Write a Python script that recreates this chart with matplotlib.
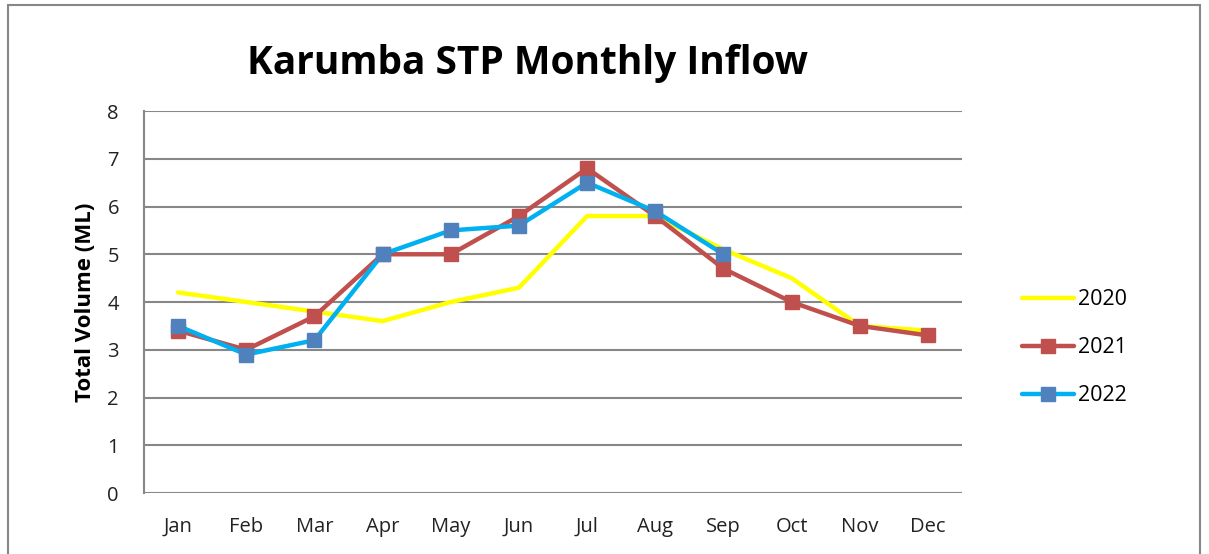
import matplotlib.pyplot as plt
from matplotlib.patches import Rectangle

# data
months = ["Jan", "Feb", "Mar", "Apr", "May", "Jun",
          "Jul", "Aug", "Sep", "Oct", "Nov", "Dec"]
inflow_2020 = [4.2, 4.0, 3.8, 3.6, 4.0, 4.3, 5.8, 5.8, 5.1, 4.5, 3.5, 3.4]
inflow_2021 = [3.4, 3.0, 3.7, 5.0, 5.0, 5.8, 6.8, 5.8, 4.7, 4.0, 3.5, 3.3]
inflow_2022 = [3.5, 2.9, 3.2, 5.0, 5.5, 5.6, 6.5, 5.9, 5.0]
y_ticks = [0, 1, 2, 3, 4, 5, 6, 7, 8]

plt.rcParams['font.family'] = ['Open Sans', 'DejaVu Sans']

fig = plt.figure(figsize=(12.09, 5.54), dpi=100)
ax = fig.add_axes([0.1191, 0.1101, 0.6766, 0.6895])

x = list(range(len(months)))
ax.plot(x, inflow_2020, color='#FFFF00', lw=3.2, label='2020', solid_capstyle='round')
ax.plot(x, inflow_2021, color='#C0504D', lw=3.2, marker='s', ms=10,
        mfc='#C0504D', mec='#C0504D', label='2021', solid_capstyle='round')
ax.plot(x[:len(inflow_2022)], inflow_2022, color='#00B0F0', lw=3.2, marker='s', ms=10,
        mfc='#4F81BD', mec='#4F81BD', label='2022', solid_capstyle='round')

ax.set_xlim(-0.5, 11.5)
ax.set_ylim(0, 8)
ax.set_yticks(y_ticks)
ax.set_xticks(x)
ax.set_xticklabels(months)
ax.tick_params(axis='both', length=0, labelsize=14.5, colors='#222222')
ax.tick_params(axis='x', pad=17)
ax.tick_params(axis='y', pad=18)
ax.grid(axis='y', color='#878787', lw=1.5)
ax.set_axisbelow(True)
for s in ['top', 'right', 'bottom']:
    ax.spines[s].set_visible(False)
ax.spines['left'].set_color('#878787')
ax.spines['left'].set_linewidth(1.5)

ax.set_ylabel("Total Volume (ML)", fontsize=16, fontweight='bold', labelpad=8)
fig.text(0.4363, 0.885, "Karumba STP Monthly Inflow", fontsize=28,
         fontweight='bold', ha='center', va='center')

ax.legend(loc='center left', bbox_to_anchor=(1.05, 0.38), frameon=False,
          fontsize=15.5, handlelength=2.4, labelspacing=1.25, handletextpad=0.2)

# outer border of the chart area
fig.patches.append(Rectangle((8 / 1209, -0.1), 1192 / 1209, 1.1 - 5 / 554,
                             transform=fig.transFigure, fill=False,
                             edgecolor='#878787', lw=1.5))

plt.savefig("out.png", dpi=100)
